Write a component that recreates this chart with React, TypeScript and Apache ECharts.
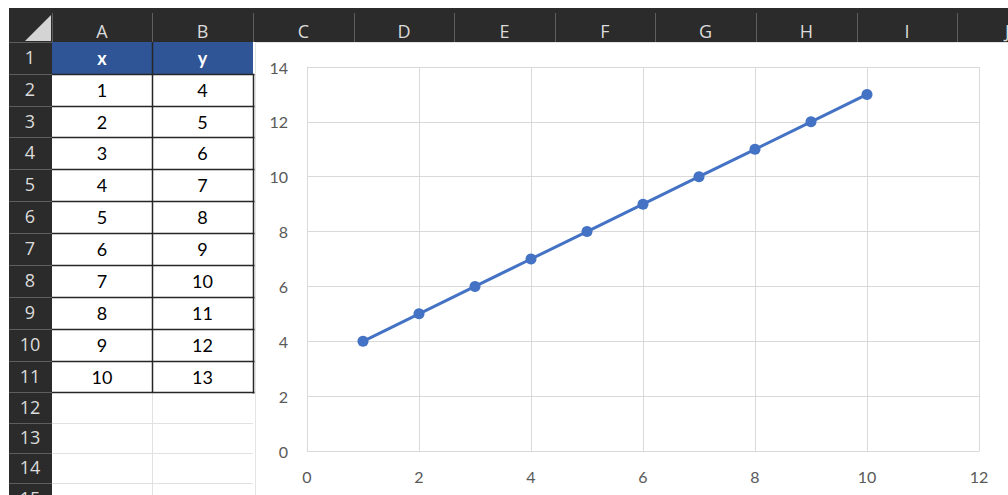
import React, { useEffect, useRef } from "react";
import * as echarts from "echarts";

// Worksheet data: column x and column y
const xValues = [1, 2, 3, 4, 5, 6, 7, 8, 9, 10];
const yValues = [4, 5, 6, 7, 8, 9, 10, 11, 12, 13];
const headerNames = ["x", "y"];
const columnLetters = ["A", "B", "C", "D", "E", "F", "G", "H", "I", "J"];
const rowNumbers = [1, 2, 3, 4, 5, 6, 7, 8, 9, 10, 11, 12, 13, 14, 15];

// Scatter axis ranges
const xAxisMax = 12;
const yAxisMax = 14;
const axisStep = 2;

const W = 1008;
const H = 495;

// Sheet geometry
const colEdges = [52, 152, 253, 354, 454, 555, 655, 756, 857, 957, 1058];
const rowEdges = [42, 74, 106, 137, 169, 201, 233, 265, 297, 329, 361, 392, 423, 453, 483, 514];
const HEADER_TOP = 8;
const SHEET_LEFT = 9;
const HEADER_BG = "#2b2b2b";
const HEADER_SEP = "#5e5e5e";
const HEADER_TEXT = "#dcdcdc";
const CELL_FONT = '18px Lato, "Noto Sans", sans-serif';
const HEAD_FONT = '18px "Open Sans", "Noto Sans", sans-serif';

function buildSheet(): any[] {
  const els: any[] = [];
  const z = -20;
  const hline = (x1: number, x2: number, y: number, stroke: string, w = 1) => ({
    type: "line",
    z,
    silent: true,
    shape: { x1, y1: y + 0.5, x2, y2: y + 0.5 },
    style: { stroke, lineWidth: w },
  });
  const vline = (x: number, y1: number, y2: number, stroke: string, w = 1) => ({
    type: "line",
    z,
    silent: true,
    shape: { x1: x + 0.5, y1, x2: x + 0.5, y2 },
    style: { stroke, lineWidth: w },
  });
  const text = (t: string, x: number, y: number, fill: string, font: string) => ({
    type: "text",
    z,
    silent: true,
    style: {
      text: t,
      x,
      y,
      fill,
      font,
      align: "center",
      verticalAlign: "middle",
      textAlign: "center",
      textVerticalAlign: "middle",
    },
  });

  // page background
  els.push({ type: "rect", z: z - 1, silent: true, shape: { x: 0, y: 0, width: W, height: H }, style: { fill: "#ffffff" } });

  // column header band and row header band
  els.push({ type: "rect", z, silent: true, shape: { x: SHEET_LEFT, y: HEADER_TOP, width: W - SHEET_LEFT, height: rowEdges[0] - HEADER_TOP }, style: { fill: HEADER_BG } });
  els.push({ type: "rect", z, silent: true, shape: { x: SHEET_LEFT, y: rowEdges[0], width: colEdges[0] - SHEET_LEFT, height: H - rowEdges[0] }, style: { fill: HEADER_BG } });

  // select-all corner triangle
  els.push({
    type: "polygon",
    z,
    silent: true,
    shape: { points: [[25, 41], [51, 41], [51, 15]] },
    style: { fill: "#d4d4d4" },
  });

  // column header separators and letters
  colEdges.forEach((x) => els.push(vline(x, 13, rowEdges[0], HEADER_SEP)));
  columnLetters.forEach((c, i) => {
    els.push(text(c, (colEdges[i] + colEdges[i + 1]) / 2, 31, HEADER_TEXT, HEAD_FONT));
  });

  // row header separators and numbers
  rowEdges.forEach((y) => els.push(hline(SHEET_LEFT, colEdges[0], y, HEADER_SEP)));
  rowNumbers.forEach((n, i) => {
    els.push(text(String(n), 30, (rowEdges[i] + rowEdges[i + 1]) / 2 - 1, HEADER_TEXT, HEAD_FONT));
  });

  // light grid for empty cells below the table
  for (let r = 11; r < rowEdges.length; r++) {
    els.push(hline(colEdges[0], colEdges[2], rowEdges[r], "#e1e1e1"));
  }
  els.push(vline(colEdges[1], rowEdges[11], H, "#e1e1e1"));

  // header row of the table
  els.push({
    type: "rect",
    z,
    silent: true,
    shape: { x: colEdges[0], y: rowEdges[0], width: colEdges[2] - colEdges[0], height: rowEdges[1] - rowEdges[0] },
    style: { fill: "#2f5597" },
  });
  headerNames.forEach((h, i) => {
    els.push(text(h, (colEdges[i] + colEdges[i + 1]) / 2, (rowEdges[0] + rowEdges[1]) / 2, "#ffffff", "bold " + CELL_FONT));
  });

  // data cells
  xValues.forEach((xv, i) => {
    const cy = (rowEdges[i + 1] + rowEdges[i + 2]) / 2;
    els.push(text(String(xv), (colEdges[0] + colEdges[1]) / 2, cy, "#000000", CELL_FONT));
    els.push(text(String(yValues[i]), (colEdges[1] + colEdges[2]) / 2, cy, "#000000", CELL_FONT));
  });

  // table borders
  const lastRow = xValues.length + 1;
  for (let r = 1; r <= lastRow; r++) {
    els.push(hline(colEdges[0], colEdges[2] + 1.5, rowEdges[r], "#262626", 1.5));
  }
  els.push(vline(colEdges[1], rowEdges[0], rowEdges[lastRow], "#262626", 1.5));
  els.push(vline(colEdges[2], rowEdges[1], rowEdges[lastRow] + 1.5, "#262626", 1.5));

  // chart object area
  els.push({
    type: "rect",
    z: z + 1,
    silent: true,
    shape: { x: 255.5, y: rowEdges[0] + 0.5, width: W - 255, height: H - rowEdges[0] },
    style: { fill: "#ffffff", stroke: "#e4e4e4", lineWidth: 1 },
  });

  return els;
}

export default function App() {
  const ref = useRef<HTMLDivElement>(null);

  useEffect(() => {
    if (!ref.current) return;
    const chart = echarts.init(ref.current, undefined, { renderer: "svg" });
    const axisLabel = {
      color: "#595959",
      fontSize: 16,
      fontFamily: 'Lato, "Noto Sans", sans-serif',
    };
    chart.setOption({
      animation: false,
      backgroundColor: "#ffffff",
      graphic: { elements: buildSheet() },
      grid: { left: 307, right: 29, top: 67, bottom: 44, containLabel: false },
      xAxis: {
        type: "value",
        min: 0,
        max: xAxisMax,
        interval: axisStep,
        axisLine: { show: true, lineStyle: { color: "#d9d9d9", width: 1 } },
        axisTick: { show: false },
        axisLabel: { ...axisLabel, margin: 17 },
        splitLine: { show: true, lineStyle: { color: "#d9d9d9", width: 1 } },
      },
      yAxis: {
        type: "value",
        min: 0,
        max: yAxisMax,
        interval: axisStep,
        axisLine: { show: true, lineStyle: { color: "#d9d9d9", width: 1 } },
        axisTick: { show: false },
        axisLabel: { ...axisLabel, margin: 19 },
        splitLine: { show: true, lineStyle: { color: "#d9d9d9", width: 1 } },
      },
      series: [
        {
          type: "line",
          data: xValues.map((x, i) => [x, yValues[i]]),
          symbol: "circle",
          symbolSize: 11,
          showSymbol: true,
          lineStyle: { color: "#4472c4", width: 3 },
          itemStyle: { color: "#4472c4" },
          z: 5,
        },
      ],
    });
    return () => chart.dispose();
  }, []);

  return (
    <div
      ref={ref}
      style={{ position: "fixed", left: 0, top: 0, width: W, height: H }}
    />
  );
}
